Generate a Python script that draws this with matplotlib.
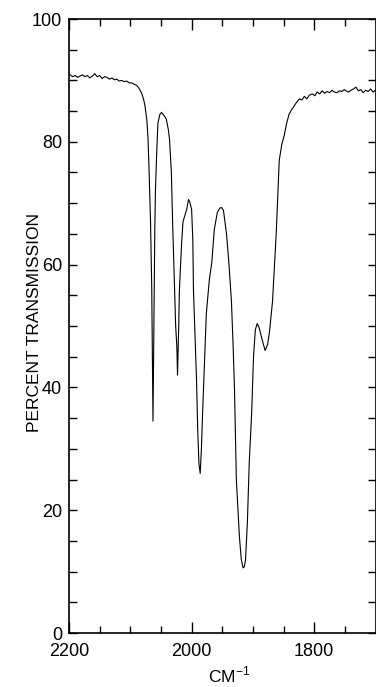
import matplotlib
matplotlib.use("Agg")
import matplotlib.pyplot as plt
from matplotlib.ticker import MultipleLocator

plt.rcParams['font.family'] = ['Liberation Sans', 'DejaVu Sans']
plt.rcParams['mathtext.fontset'] = 'custom'
plt.rcParams['mathtext.rm'] = 'Liberation Sans'

wavenumber = [2198, 2194, 2190, 2186, 2182, 2178, 2174, 2170, 2166, 2162, 2158, 2154,
              2150, 2146, 2142, 2138, 2134, 2130, 2126, 2122, 2118, 2114, 2110, 2106,
              2102, 2098, 2094, 2090, 2087, 2084, 2081, 2078, 2076, 2073, 2071, 2069,
              2067, 2065, 2064, 2063, 2062, 2061, 2060, 2059, 2057, 2055, 2052, 2049,
              2046, 2043, 2041, 2038, 2036, 2033, 2031, 2029, 2028, 2026, 2024, 2023,
              2021, 2020, 2018, 2016, 2014, 2011, 2008, 2005, 2003, 2000, 1998, 1997,
              1995, 1992, 1990, 1988, 1986, 1984, 1982, 1979, 1976, 1971, 1967, 1963,
              1958, 1954, 1951, 1948, 1943, 1939, 1935, 1932, 1930, 1927, 1922, 1919,
              1916, 1914, 1912, 1909, 1906, 1902, 1899, 1896, 1893, 1890, 1885, 1880,
              1876, 1873, 1868, 1862, 1857, 1853, 1849, 1845, 1841, 1837, 1833, 1829,
              1824, 1820, 1816, 1812, 1808, 1803, 1799, 1795, 1791, 1787, 1783, 1779,
              1775, 1771, 1767, 1763, 1759, 1755, 1751, 1748, 1744, 1740, 1736, 1732,
              1728, 1724, 1720, 1716, 1712, 1708, 1704, 1700]

transmission = [90.9, 90.6, 90.8, 90.5, 90.7, 90.9, 90.6, 90.8, 90.4, 90.7, 91.1, 90.6,
                90.8, 90.3, 90.6, 90.5, 90.2, 90.4, 90.1, 90.2, 89.9, 90.0, 89.8, 89.9,
                89.6, 89.6, 89.4, 89.2, 88.9, 88.4, 87.8, 86.8, 85.8, 83.5, 80.4, 74.0,
                67.0, 56.0, 45.0, 34.5, 45.0, 56.0, 66.0, 72.0, 78.0, 83.0, 84.4, 84.8,
                84.4, 84.0, 83.6, 82.0, 80.4, 75.0, 67.0, 60.0, 56.0, 50.0, 46.5, 42.0,
                50.0, 55.5, 60.0, 64.0, 67.0, 68.0, 69.0, 70.6, 70.2, 69.0, 64.0, 56.0,
                50.0, 41.3, 33.0, 27.5, 26.0, 30.0, 36.0, 44.0, 52.0, 57.6, 60.4, 65.7,
                68.5, 69.2, 69.3, 68.8, 65.0, 60.0, 54.0, 46.0, 39.6, 25.0, 15.7, 12.0,
                10.6, 10.8, 12.0, 18.0, 27.7, 35.9, 45.0, 49.4, 50.4, 49.8, 47.8, 46.0,
                47.0, 49.0, 54.0, 65.0, 77.0, 79.5, 81.0, 83.0, 84.5, 85.2, 85.8, 86.4,
                87.0, 86.8, 87.4, 87.0, 87.6, 87.8, 87.5, 88.1, 87.8, 88.3, 87.9, 88.2,
                88.0, 88.4, 88.1, 88.0, 88.3, 88.2, 88.5, 88.3, 88.1, 88.4, 88.6, 88.9,
                88.3, 88.5, 88.0, 88.4, 88.2, 88.6, 88.1, 88.4]

x_major_ticks = [2200, 2000, 1800]
y_major_ticks = [0, 20, 40, 60, 80, 100]

fig = plt.figure(figsize=(3.76, 6.87), dpi=100)
ax = fig.add_axes([69/376, 1 - 633/687, (375.5 - 69)/376, (633 - 19)/687])

ax.plot(wavenumber, transmission, color='black', lw=0.8)

ax.set_xlim(2200, 1700)
ax.set_ylim(0, 100)
ax.set_xticks(x_major_ticks)
ax.set_yticks(y_major_ticks)
ax.xaxis.set_minor_locator(MultipleLocator(50))
ax.yaxis.set_minor_locator(MultipleLocator(5))

ax.tick_params(which='both', direction='in', top=True, right=True, width=1.0,
               labelsize=13, colors='black')
ax.tick_params(axis='x', which='major', length=8, pad=7.5)
ax.tick_params(axis='x', which='minor', length=5)
ax.tick_params(axis='y', which='major', length=5.5, pad=5)
ax.tick_params(axis='y', which='minor', length=5.5)
for sp in ax.spines.values():
    sp.set_linewidth(1.2)

fig.text(35/376, 1 - 322/687, 'PERCENT TRANSMISSION', rotation=90,
         ha='center', va='center', fontsize=12.5)
fig.text(229/376, 2/687, r'CM$^{\mathregular{-1}}$', ha='center', va='bottom',
         fontsize=12.5)

fig.savefig('out.png', dpi=100)
